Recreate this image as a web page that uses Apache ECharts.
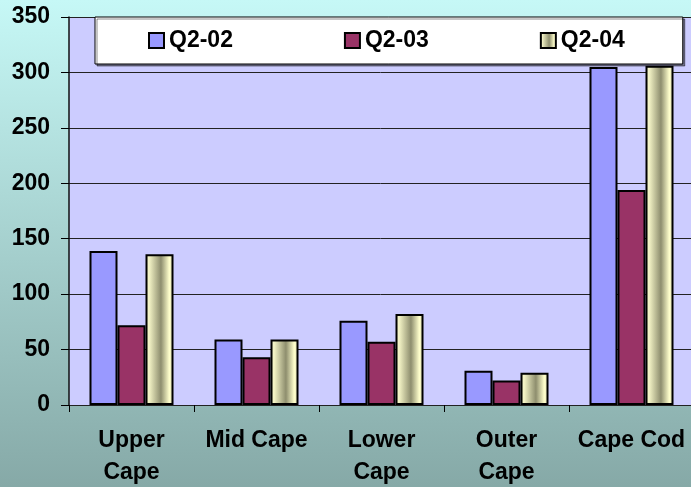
<!DOCTYPE html>
<html>
<head>
<meta charset="utf-8">
<title>Quarterly counts by region</title>
<script src="https://cdn.jsdelivr.net/npm/echarts@6/dist/echarts.min.js"></script>
<style>
  html, body { margin: 0; padding: 0; }
  #chart { width: 691px; height: 487px; }
</style>
</head>
<body>
<div id="chart"></div>
<script>
// Regions along the x axis (line breaks as displayed)
const categories = ['Upper\nCape', 'Mid Cape', 'Lower\nCape', 'Outer\nCape', 'Cape Cod'];

// Series names and values per region
const seriesNames = ['Q2-02', 'Q2-03', 'Q2-04'];
const q2_02 = [139, 59, 76, 31, 305];
const q2_03 = [72, 43, 57, 22, 194];
const q2_04 = [136, 59, 82, 29, 306];

// Value axis ticks
const yMin = 0;
const yMax = 350;
const yStep = 50;

const FONT = 'Liberation Sans, Arial, sans-serif';

// Cream bars use a cylinder-like horizontal shading
const creamFill = {
  type: 'linear', x: 0, y: 0, x2: 1, y2: 0,
  colorStops: [
    { offset: 0.0, color: '#E4E4B6' },
    { offset: 0.12, color: '#F6F6C8' },
    { offset: 0.55, color: '#8E8E6E' },
    { offset: 0.85, color: '#FFFFCC' },
    { offset: 1.0, color: '#DCDCAE' }
  ]
};

const fills = ['#9999FF', '#993366', creamFill];
const seriesData = [q2_02, q2_03, q2_04];

const chart = echarts.init(document.getElementById('chart'), null, { renderer: 'canvas' });

chart.setOption({
  animation: false,
  backgroundColor: {
    type: 'linear', x: 0, y: 0, x2: 0, y2: 1,
    colorStops: [
      { offset: 0, color: '#C6F8F6' },
      { offset: 1, color: '#86A9A7' }
    ]
  },
  textStyle: { fontFamily: FONT },
  grid: {
    left: 69,
    top: 17,
    right: -3,
    bottom: 82,
    show: true,
    backgroundColor: '#CCCCFF',
    borderWidth: 0,
    containLabel: false,
    outerBoundsMode: 'none'
  },
  legend: {
    data: seriesNames,
    left: 95,
    top: 17,
    orient: 'horizontal',
    padding: [12, 58, 12, 53],
    itemGap: 111,
    itemWidth: 15,
    itemHeight: 15,
    icon: 'rect',
    backgroundColor: '#FFFFFF',
    borderColor: '#000000',
    borderWidth: 1,
    shadowColor: 'rgba(0,0,0,0.45)',
    shadowOffsetX: 2,
    shadowOffsetY: 2,
    shadowBlur: 0,
    itemStyle: { borderColor: '#000', borderWidth: 2 },
    textStyle: {
      fontFamily: FONT,
      fontWeight: 'bold',
      fontSize: 23,
      color: '#000',
      padding: [2, 0, 0, 0]
    }
  },
  xAxis: {
    type: 'category',
    data: categories,
    boundaryGap: true,
    axisLine: { show: true, lineStyle: { color: '#222', width: 1 } },
    axisTick: { show: true, length: 7, lineStyle: { color: '#000', width: 1 } },
    axisLabel: {
      interval: 0,
      margin: 20,
      fontFamily: FONT,
      fontWeight: 'bold',
      fontSize: 23,
      lineHeight: 32,
      color: '#000'
    },
    splitLine: { show: false }
  },
  yAxis: {
    type: 'value',
    min: yMin,
    max: yMax,
    interval: yStep,
    axisLine: { show: true, lineStyle: { color: '#111', width: 1.5 } },
    axisTick: { show: true, length: 8, lineStyle: { color: '#000', width: 1 } },
    axisLabel: {
      margin: 19,
      fontFamily: FONT,
      fontWeight: 'bold',
      fontSize: 23,
      color: '#000'
    },
    splitLine: { show: true, lineStyle: { color: '#222', width: 1 } }
  },
  series: seriesNames.map((name, i) => ({
    name: name,
    type: 'bar',
    data: seriesData[i],
    barWidth: 28,
    barGap: '0%',
    itemStyle: {
      color: fills[i],
      borderColor: '#000',
      borderWidth: 2
    }
  }))
});
</script>
</body>
</html>
